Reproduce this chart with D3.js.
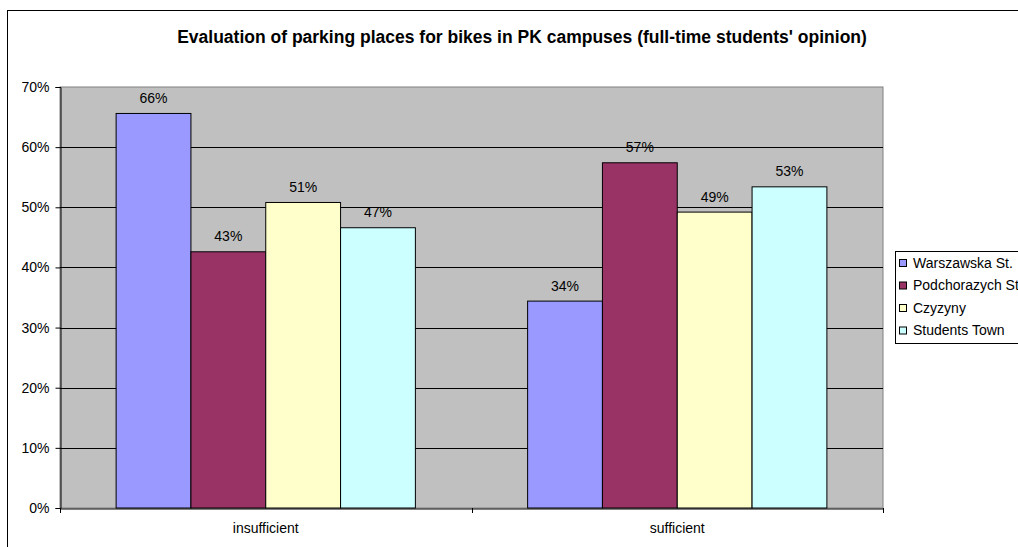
<!DOCTYPE html>
<html>
<head>
<meta charset="utf-8">
<script src="https://cdn.jsdelivr.net/npm/d3@7"></script>
<style>
  html, body { margin: 0; padding: 0; background: #fff; }
  svg { display: block; font-family: "Liberation Sans", Arial, sans-serif; }
</style>
</head>
<body>
<svg id="chart" width="1018" height="547"></svg>
<script>
// Survey results: share of answers per campus
const categories = ["insufficient", "sufficient"];
const campuses = ["Warszawska St.", "Podchorazych St.", "Czyzyny", "Students Town"];
const warszawska = [65.6, 34.4];
const podchorazych = [42.6, 57.4];
const czyzyny = [50.8, 49.2];
const studentsTown = [46.6, 53.4];
const seriesValues = [warszawska, podchorazych, czyzyny, studentsTown];
const colors = ["#9999FF", "#993366", "#FFFFCC", "#CCFFFF"];
const yTicks = [0, 10, 20, 30, 40, 50, 60, 70];
const title = "Evaluation of parking places for bikes in PK campuses (full-time students' opinion)";

const FONT = "'Liberation Sans', Arial, sans-serif";
const svg = d3.select("#chart");

// Chart frame
svg.append("rect")
  .attr("x", 7.5).attr("y", 10.5)
  .attr("width", 1040).attr("height", 560)
  .attr("fill", "#fff").attr("stroke", "#000").attr("stroke-width", 1);

// Title
svg.append("text")
  .attr("x", 522).attr("y", 43)
  .attr("text-anchor", "middle")
  .attr("font-size", 17.5).attr("font-weight", "bold")
  .attr("fill", "#000")
  .text(title);

const plot = { left: 60, top: 87, right: 883, bottom: 508 };

const x0 = d3.scaleBand()
  .domain(categories)
  .range([plot.left, plot.right])
  .paddingInner(0).paddingOuter(0);

// four bars per category, gap width equal to 1.5 bar widths
const x1 = d3.scaleBand()
  .domain(d3.range(campuses.length))
  .range([0, x0.bandwidth()])
  .paddingInner(0)
  .paddingOuter(0.75);

const y = d3.scaleLinear().domain([0, 70]).range([plot.bottom, plot.top]);

// Plot area background
svg.append("rect")
  .attr("x", plot.left).attr("y", plot.top)
  .attr("width", plot.right - plot.left).attr("height", plot.bottom - plot.top)
  .attr("fill", "#C0C0C0").attr("stroke", "#808080").attr("stroke-width", 1);

// Gridlines
svg.append("g")
  .selectAll("line")
  .data(yTicks.filter(t => t > 0 && t < 70))
  .join("line")
  .attr("x1", plot.left).attr("x2", plot.right)
  .attr("y1", d => Math.round(y(d)) + 0.5).attr("y2", d => Math.round(y(d)) + 0.5)
  .attr("stroke", "#000").attr("stroke-width", 1);

// Bars
const groups = svg.append("g")
  .selectAll("g")
  .data(categories)
  .join("g")
  .attr("transform", d => `translate(${x0(d)},0)`);

groups.selectAll("rect")
  .data((c, ci) => seriesValues.map((vals, si) => ({ si, v: vals[ci] })))
  .join("rect")
  .attr("x", d => x1(d.si))
  .attr("y", d => y(d.v))
  .attr("width", x1.bandwidth())
  .attr("height", d => y(0) - y(d.v))
  .attr("fill", d => colors[d.si])
  .attr("stroke", "#000").attr("stroke-width", 1);

// Value labels
groups.selectAll("text")
  .data((c, ci) => seriesValues.map((vals, si) => ({ si, v: vals[ci] })))
  .join("text")
  .attr("x", d => x1(d.si) + x1.bandwidth() / 2)
  .attr("y", d => y(d.v) - 10.5)
  .attr("text-anchor", "middle")
  .attr("font-size", 14).attr("fill", "#000")
  .text(d => Math.round(d.v) + "%");

// Y axis
const yAxis = svg.append("g")
  .attr("transform", `translate(${plot.left + 0.5},0)`)
  .call(d3.axisLeft(y).tickValues(yTicks).tickFormat(d => d + "%").tickSize(5).tickPadding(6));
yAxis.select(".domain").attr("stroke", "#000");
yAxis.selectAll("line").attr("stroke", "#000");
yAxis.selectAll("text").attr("font-size", 14).attr("fill", "#000").attr("font-family", FONT);

// X axis
const xAxis = svg.append("g")
  .attr("transform", `translate(0,${plot.bottom + 0.5})`)
  .call(d3.axisBottom(x0).tickSize(0).tickPadding(15));
xAxis.select(".domain").attr("stroke", "#000");
xAxis.selectAll("text").attr("font-size", 14).attr("fill", "#000").attr("font-family", FONT);
// category boundary ticks
svg.append("g")
  .selectAll("line")
  .data([plot.left, x0("sufficient"), plot.right])
  .join("line")
  .attr("x1", d => Math.round(d) + 0.5).attr("x2", d => Math.round(d) + 0.5)
  .attr("y1", plot.bottom).attr("y2", plot.bottom + 5)
  .attr("stroke", "#000");

// Legend
const legend = svg.append("g").attr("transform", "translate(895.5,251.5)");
legend.append("rect")
  .attr("width", 140).attr("height", 92)
  .attr("fill", "#fff").attr("stroke", "#000").attr("stroke-width", 1);
const items = legend.selectAll("g.item")
  .data(campuses)
  .join("g")
  .attr("class", "item")
  .attr("transform", (d, i) => `translate(0,${11.5 + i * 22.5})`);
items.append("rect")
  .attr("x", 4).attr("y", -3.5)
  .attr("width", 7).attr("height", 7)
  .attr("fill", (d, i) => colors[i])
  .attr("stroke", "#000").attr("stroke-width", 1);
items.append("text")
  .attr("x", 17.5).attr("y", 4.5)
  .attr("font-size", 14).attr("fill", "#000")
  .text(d => d);
</script>
</body>
</html>
